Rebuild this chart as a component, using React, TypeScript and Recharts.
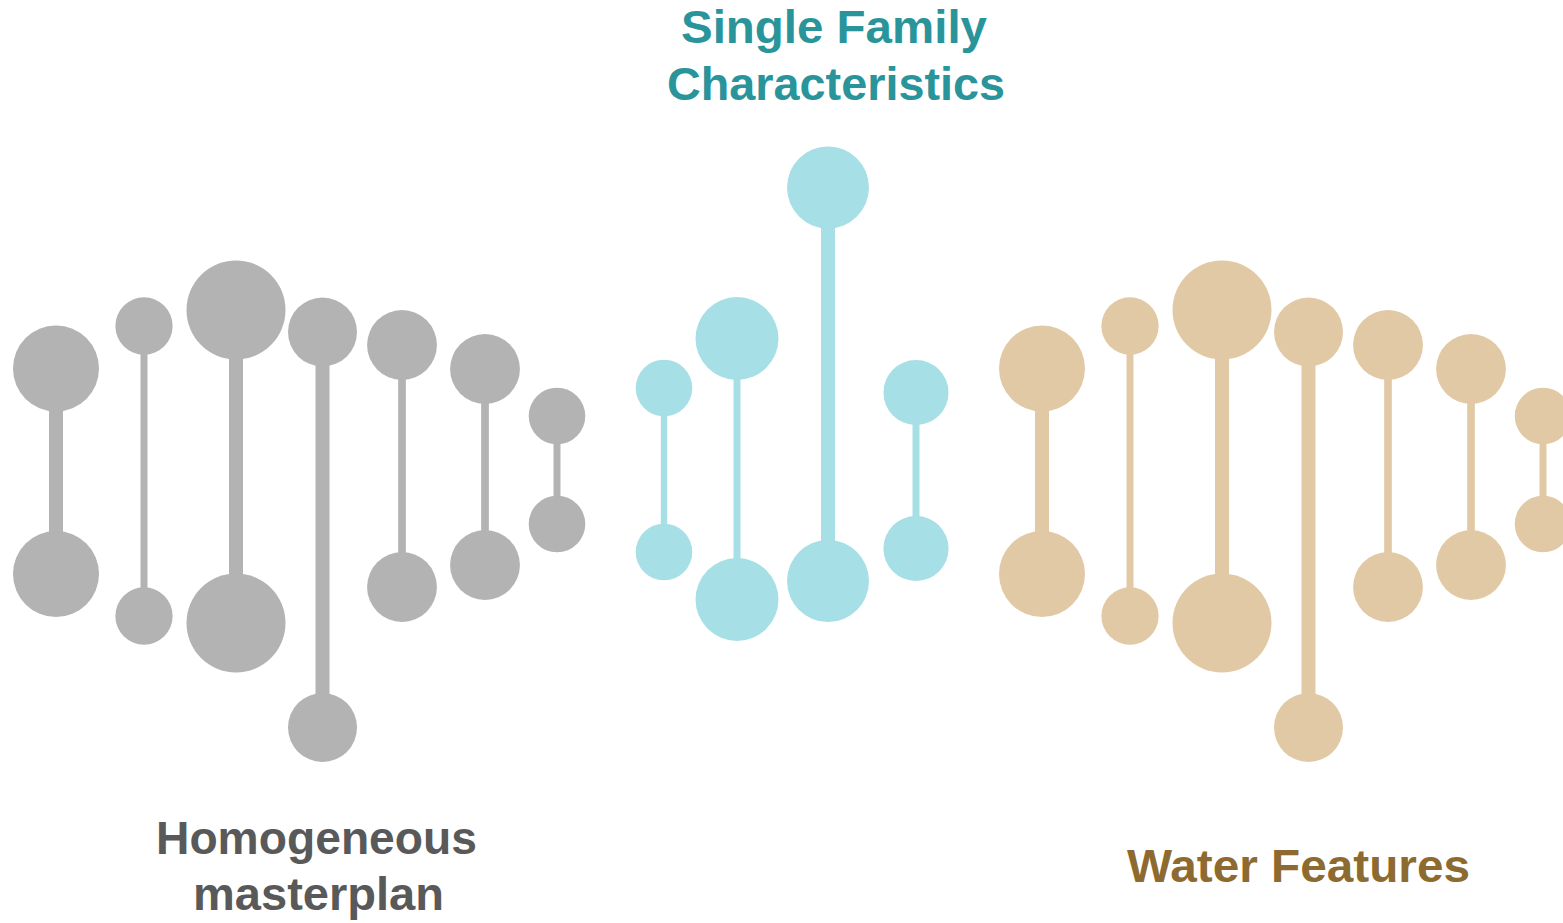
import { ScatterChart, Scatter, XAxis, YAxis, ZAxis } from "recharts";

// positions along the strip, upper/lower values, bubble size, stem weight
const grayX = [56, 144, 236, 322.5, 402, 485, 557];
const grayHigh = [554.5, 597, 613, 591, 578, 554, 507];
const grayLow = [349, 307, 300, 195.5, 336, 358, 399];
const graySize = [18.5, 8.2, 24.5, 11.9, 12.2, 12.2, 8.0];
const grayStem = [2, 1, 2, 2, 1.1, 1.1, 1];

const tealX = [664, 737, 828, 916];
const tealHigh = [535, 584.5, 735.5, 530.5];
const tealLow = [371, 323.5, 342, 374.5];
const tealSize = [8.0, 17.2, 16.8, 10.6];
const tealStem = [0.9, 1, 2, 1];

const tanX = [1042, 1130, 1222, 1308.5, 1388, 1471, 1543];
const tanHigh = [554.5, 597, 613, 591, 578, 554, 507];
const tanLow = [349, 307, 300, 195.5, 336, 358, 399];
const tanSize = [18.5, 8.2, 24.5, 11.9, 12.2, 12.2, 8.0];
const tanStem = [2, 1, 2, 2, 1.1, 1.1, 1];

const groups = [
  { name: "Homogeneous masterplan", color: "#b3b3b3", x: grayX, high: grayHigh, low: grayLow, size: graySize, stem: grayStem },
  { name: "Single Family Characteristics", color: "#a6dfe5", x: tealX, high: tealHigh, low: tealLow, size: tealSize, stem: tealStem },
  { name: "Water Features", color: "#e2c9a5", x: tanX, high: tanHigh, low: tanLow, size: tanSize, stem: tanStem },
];

const W = 1563;
const H = 923;

export default function App() {
  const series = groups.flatMap((g) =>
    g.x.map((x, i) => ({
      key: `${g.name}-${i}`,
      color: g.color,
      stem: g.stem[i],
      points: [
        { x, y: g.high[i], z: g.size[i] },
        { x, y: g.low[i], z: g.size[i] },
      ],
    }))
  );

  const font = { fontFamily: "'Liberation Sans', Arial, sans-serif", fontWeight: 700, fontSize: 47 };

  return (
    <div style={{ position: "absolute", left: 0, top: 0, width: W, height: H, overflow: "hidden", background: "#fff" }}>
      <ScatterChart width={W} height={H} margin={{ top: 0, right: 0, bottom: 0, left: 0 }}>
        <XAxis type="number" dataKey="x" domain={[0, W]} hide />
        <YAxis type="number" dataKey="y" domain={[0, H]} hide />
        <ZAxis type="number" dataKey="z" domain={[0, 25]} range={[0, 7854]} />
        {series.map((s) => (
          <Scatter
            key={s.key}
            data={s.points}
            fill={s.color}
            line={{ stroke: s.color, strokeWidth: 7 * s.stem }}
            isAnimationActive={false}
          />
        ))}
      </ScatterChart>
      <svg width={W} height={H} style={{ position: "absolute", left: 0, top: 0, pointerEvents: "none" }}>
        <text x={834} y={43} textAnchor="middle" fill="#2a949b" {...font} textLength={306} lengthAdjust="spacingAndGlyphs">
          Single Family
        </text>
        <text x={836} y={100} textAnchor="middle" fill="#2a949b" {...font} textLength={338} lengthAdjust="spacingAndGlyphs">
          Characteristics
        </text>
        <text x={316.5} y={854} textAnchor="middle" fill="#595959" {...font} textLength={321} lengthAdjust="spacingAndGlyphs">
          Homogeneous
        </text>
        <text x={318.5} y={910} textAnchor="middle" fill="#595959" {...font} textLength={251} lengthAdjust="spacingAndGlyphs">
          masterplan
        </text>
        <text x={1298.5} y={882} textAnchor="middle" fill="#8d6a2f" {...font} textLength={343} lengthAdjust="spacingAndGlyphs">
          Water Features
        </text>
      </svg>
    </div>
  );
}
